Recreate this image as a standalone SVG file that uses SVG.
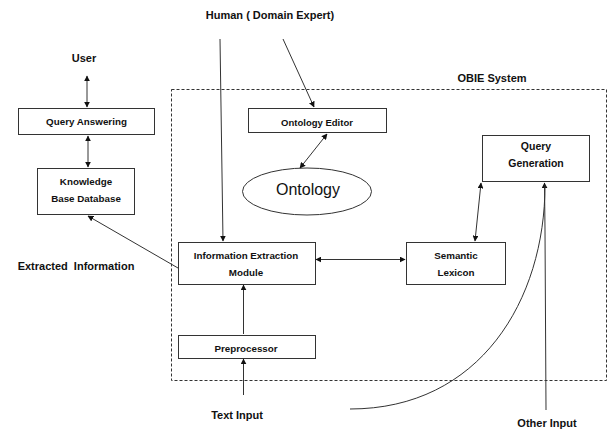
<svg xmlns="http://www.w3.org/2000/svg" width="610" height="430" viewBox="0 0 610 430">
<defs>
<marker id="ah" viewBox="0 0 10 10" refX="9" refY="5" markerWidth="6" markerHeight="6" orient="auto-start-reverse" markerUnits="userSpaceOnUse">
<path d="M0,0 L10,5 L0,10 z" fill="#111"/>
</marker>
<style>
.box{fill:#fff;stroke:#333;stroke-width:1}
.t{font-family:"Liberation Sans",Arial,sans-serif;font-weight:bold;fill:#111;text-anchor:middle}
.s9{font-size:9.8px}
.s10{font-size:10.5px}
.s11{font-size:11px}
.c{fill:none;stroke:#333;stroke-width:1}
.a{marker-end:url(#ah)}
.b{marker-start:url(#ah);marker-end:url(#ah)}
</style>
</defs>
<rect x="0" y="0" width="610" height="430" fill="#fff"/>
<g id="obie-system">
<rect x="171.5" y="89.5" width="435" height="291" fill="none" stroke="#333" stroke-width="1" stroke-dasharray="3,2"/>
<text class="t s11" x="492" y="82">OBIE System</text>
</g>
<g id="human"><text class="t s11" x="270" y="19">Human ( Domain Expert)</text></g>
<g id="user"><text class="t s11" x="84" y="62">User</text></g>
<g id="extracted-information"><text class="t s11" x="76" y="270" xml:space="preserve">Extracted  Information</text></g>
<g id="text-input"><text class="t s11" x="237" y="419">Text Input</text></g>
<g id="other-input"><text class="t s11" x="547" y="427">Other Input</text></g>
<g id="query-answering">
<rect class="box" x="18.5" y="108.5" width="136" height="26"/>
<text class="t s9" x="86.5" y="125">Query Answering</text>
</g>
<g id="knowledge-base">
<rect class="box" x="37.5" y="168.5" width="97" height="46"/>
<text class="t s9" x="86" y="185">Knowledge</text>
<text class="t s9" x="86" y="202">Base Database</text>
</g>
<g id="ontology-editor">
<rect class="box" x="248.5" y="108.5" width="138" height="24"/>
<text class="t" font-size="9.5" x="317" y="126">Ontology Editor</text>
</g>
<g id="ontology">
<ellipse cx="307" cy="191.5" rx="64.5" ry="23.5" fill="#fff" stroke="#333" stroke-width="1"/>
<text x="308" y="195" font-family="Liberation Sans,Arial,sans-serif" font-size="16" text-anchor="middle" fill="#111">Ontology</text>
</g>
<g id="query-generation">
<rect class="box" x="482.5" y="135.5" width="107" height="46"/>
<text class="t s10" x="536" y="150">Query</text>
<text class="t s10" x="536" y="167">Generation</text>
</g>
<g id="information-extraction">
<rect class="box" x="178.5" y="242.5" width="137" height="42"/>
<text class="t s9" x="246" y="259">Information Extraction</text>
<text class="t s9" x="246" y="276">Module</text>
</g>
<g id="semantic-lexicon">
<rect class="box" x="406.5" y="242.5" width="99" height="42"/>
<text class="t s9" x="456" y="259">Semantic</text>
<text class="t s9" x="456" y="276">Lexicon</text>
</g>
<g id="preprocessor">
<rect class="box" x="178.5" y="335.5" width="137" height="23"/>
<text class="t s9" x="246" y="352">Preprocessor</text>
</g>
<g id="connectors">
<line class="c b" x1="87" y1="76" x2="87" y2="107"/>
<line class="c b" x1="88" y1="136" x2="88" y2="167"/>
<line class="c a" x1="178" y1="268" x2="88" y2="216"/>
<line class="c a" x1="220" y1="39" x2="223" y2="241"/>
<line class="c a" x1="283" y1="39" x2="314" y2="107"/>
<line class="c b" x1="327" y1="134" x2="300" y2="168"/>
<line class="c b" x1="316" y1="259.5" x2="405" y2="259.5"/>
<line class="c b" x1="481" y1="183" x2="475" y2="241"/>
<line class="c a" x1="243.5" y1="334" x2="243.5" y2="285"/>
<line class="c a" x1="243.5" y1="395" x2="243.5" y2="359"/>
<path class="c a" d="M546,410 L545,230 L544.5,183"/>
<path class="c" d="M350,409 C480,409 545,300 545,185"/>
</g>
</svg>
